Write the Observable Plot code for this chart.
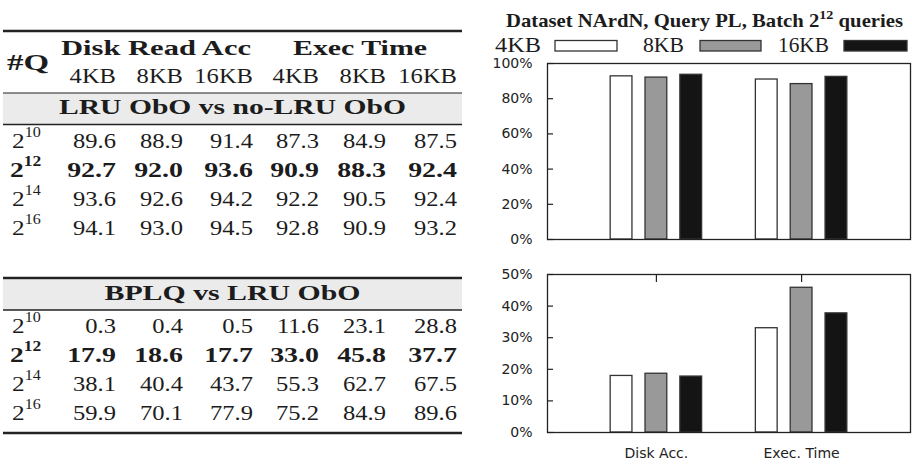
<!DOCTYPE html>
<html>
<head>
<meta charset="utf-8">
<script src="https://cdn.jsdelivr.net/npm/d3@7"></script>
<script src="https://cdn.jsdelivr.net/npm/@observablehq/plot@0.6"></script>
<style>
  html, body { margin: 0; padding: 0; background: #fff; }
  #root { position: relative; width: 912px; height: 467px; overflow: hidden; }
  .abs { position: absolute; }
  svg.serif text { font-family: "Liberation Serif", serif; fill: #1c1c1c; }
</style>
</head>
<body>
<div id="root"></div>
<script>
// ---------- data ----------
const sizes = ["4KB", "8KB", "16KB"];
const metrics = ["Disk Acc.", "Exec. Time"];
const tableGroupHeaders = ["Disk Read Acc", "Exec Time"];
const batchExponents = [10, 12, 14, 16];
const highlightExponent = 12;
const lruTitle = "LRU ObO vs no-LRU ObO";
const bplqTitle = "BPLQ vs LRU ObO";
const lruRows = [
  [89.6, 88.9, 91.4, 87.3, 84.9, 87.5],
  [92.7, 92.0, 93.6, 90.9, 88.3, 92.4],
  [93.6, 92.6, 94.2, 92.2, 90.5, 92.4],
  [94.1, 93.0, 94.5, 92.8, 90.9, 93.2]
];
const bplqRows = [
  [0.3, 0.4, 0.5, 11.6, 23.1, 28.8],
  [17.9, 18.6, 17.7, 33.0, 45.8, 37.7],
  [38.1, 40.4, 43.7, 55.3, 62.7, 67.5],
  [59.9, 70.1, 77.9, 75.2, 84.9, 89.6]
];
// chart values (batch 2^12)
const lruDiskAcc = [92.7, 92.0, 93.6];
const lruExecTime = [90.9, 88.3, 92.4];
const bplqDiskAcc = [17.9, 18.6, 17.7];
const bplqExecTime = [33.0, 45.8, 37.7];
const topYTicks = [0, 20, 40, 60, 80, 100];
const bottomYTicks = [0, 10, 20, 30, 40, 50];
const chartTitle = ["Dataset NArdN, Query PL, Batch 2", "12", " queries"];

// ---------- styles ----------
const sizeFills = ["#ffffff", "#999999", "#141414"];
const barOffsets = [-0.24, 0, 0.24];
const barWidth = 0.15;

const root = d3.select("#root");

// ---------- table (left) ----------
const tsvg = root.append("svg").attr("class", "abs serif")
  .style("left", "0px").style("top", "0px")
  .attr("width", 470).attr("height", 467);

const colRight = [116, 183, 253, 319, 386, 457];
const tableL = 3, tableR = 462;
const SX = 1.17, SXB = 1.33, FS = 21;

function txt(g, s, x, y, o = {}) {
  const {anchor = "end", size = FS, bold = false, sx = SX, width = null} = o;
  const t = g.append("text")
    .attr("text-anchor", anchor)
    .attr("font-size", size)
    .attr("font-weight", bold ? "bold" : "normal");
  if (width) {
    t.attr("x", x).attr("y", y).attr("textLength", width).attr("lengthAdjust", "spacingAndGlyphs");
  } else {
    t.attr("transform", `translate(${x},${y}) scale(${sx},1)`);
  }
  t.text(s);
  return t;
}
function rowLabel(g, e, x, y, bold) {
  const t = g.append("text")
    .attr("transform", `translate(${x},${y}) scale(${bold ? 1.25 : 1.15},1)`)
    .attr("font-size", 22).attr("font-weight", bold ? "bold" : "normal");
  t.append("tspan").text("2");
  t.append("tspan").attr("font-size", 14).attr("dy", -11).text(String(e));
}
function rule(y, w) {
  tsvg.append("line").attr("x1", tableL).attr("x2", tableR).attr("y1", y).attr("y2", y)
    .attr("stroke", "#222").attr("stroke-width", w);
}
function band(y0, y1) {
  tsvg.append("rect").attr("x", tableL).attr("y", y0).attr("width", tableR - tableL).attr("height", y1 - y0)
    .attr("fill", "#ebebeb");
}

// header
rule(31, 2.4);
txt(tsvg, tableGroupHeaders[0], 61, 55, {anchor: "start", bold: true, width: 190, size: 22});
txt(tsvg, tableGroupHeaders[1], 293, 55, {anchor: "start", bold: true, width: 134, size: 22});
txt(tsvg, "#Q", 7, 70, {anchor: "start", bold: true, width: 42, size: 23});
[...sizes, ...sizes].forEach((s, i) => txt(tsvg, s, colRight[i], 83));

function block(title, rows, bandTop, bandBot, titleBase, rowBase, pitch) {
  band(bandTop, bandBot);
  txt(tsvg, title, 232.5 - (title === lruTitle ? 173.5 : 128), titleBase,
      {anchor: "start", bold: true, width: title === lruTitle ? 347 : 256, size: 22});
  rows.forEach((r, ri) => {
    const y = rowBase + ri * pitch;
    const bold = batchExponents[ri] === highlightExponent;
    rowLabel(tsvg, batchExponents[ri], bold ? 10 : 12, y, bold);
    r.forEach((v, ci) => txt(tsvg, v.toFixed(1), colRight[ci], y, {bold, sx: bold ? SXB : SX}));
  });
}
block(lruTitle, lruRows, 93, 124.5, 114, 148, 29);
rule(93, 1.1);
rule(124.5, 1.3);

block(bplqTitle, bplqRows, 279.5, 310, 300, 333, 29);
rule(278, 2.4);
rule(310, 1.3);
rule(433, 2.4);

// ---------- title + legend (right) ----------
const hsvg = root.append("svg").attr("class", "abs serif")
  .style("left", "480px").style("top", "0px")
  .attr("width", 432).attr("height", 60);
const titleText = hsvg.append("text").attr("x", 26).attr("y", 27)
  .attr("font-size", 19).attr("font-weight", "bold")
  .attr("textLength", 397).attr("lengthAdjust", "spacingAndGlyphs");
titleText.append("tspan").text(chartTitle[0]);
titleText.append("tspan").attr("font-size", 13).attr("dy", -8).text(chartTitle[1]);
titleText.append("tspan").attr("dy", 8).text(chartTitle[2]);

const legendTextX = [15, 163, 298];
const legendTextW = [46, 41, 51];
const legendBoxX = [75, 220, 364];
const legendBoxW = [62, 61, 63];
sizes.forEach((s, i) => {
  hsvg.append("text").attr("x", legendTextX[i]).attr("y", 52).attr("font-size", 20)
    .attr("textLength", legendTextW[i]).attr("lengthAdjust", "spacingAndGlyphs").text(s);
  hsvg.append("rect").attr("x", legendBoxX[i]).attr("y", 40.5).attr("width", legendBoxW[i]).attr("height", 10.5)
    .attr("fill", sizeFills[i]).attr("stroke", "#333").attr("stroke-width", 1.3);
});

// ---------- charts ----------
function barChart(values, yMax, yTicks, {height, marginTop, marginBottom, showX}) {
  const data = metrics.flatMap((m, mi) => sizes.map((s, si) => ({
    metric: m, size: s, value: values[mi][si], xc: mi + barOffsets[si]
  })));
  return Plot.plot({
    width: 432, height, marginLeft: 67, marginRight: 2, marginTop, marginBottom,
    style: {fontFamily: "DejaVu Sans", fontSize: "14px", color: "#222", background: "transparent", overflow: "visible"},
    x: showX ? {domain: [-0.75, 1.75]} : {domain: [-0.75, 1.75], axis: null},
    y: {domain: [0, yMax]},
    color: {domain: sizes, range: sizeFills},
    marks: [
      Plot.rect(data, {
        x1: d => d.xc - barWidth / 2, x2: d => d.xc + barWidth / 2,
        y1: d => 0, y2: "value", fill: "size", stroke: "#333", strokeWidth: 1.3
      }),
      Plot.axisY({ticks: yTicks, tickSize: 0, tickPadding: 15, tickFormat: d => d + "%", label: null}),
      Plot.axisY({ticks: yTicks, tickSize: 6, dx: 6, tickFormat: () => "", label: null, stroke: "#222", strokeWidth: 1.2}),
      showX ? Plot.axisX({anchor: "top", ticks: [0, 1], tickSize: 7, dy: 7, tickFormat: () => "", label: null, stroke: "#222", strokeWidth: 1.2}) : null,
      showX ? Plot.axisX({anchor: "bottom", ticks: [0, 1], tickSize: 0, tickPadding: 16, tickFormat: i => metrics[i], label: null}) : null,
      Plot.frame({stroke: "#222", strokeWidth: 1.3})
    ]
  });
}

const topChart = barChart([lruDiskAcc, lruExecTime], 100, topYTicks, {height: 194, marginTop: 13, marginBottom: 5, showX: false});
const bottomChart = barChart([bplqDiskAcc, bplqExecTime], 50, bottomYTicks, {height: 205, marginTop: 12, marginBottom: 35, showX: true});
[topChart, bottomChart].forEach((p, i) => {
  p.style.position = "absolute";
  p.style.left = "480px";
  p.style.top = (i === 0 ? 50 : 262) + "px";
  root.node().appendChild(p);
});
</script>
</body>
</html>
